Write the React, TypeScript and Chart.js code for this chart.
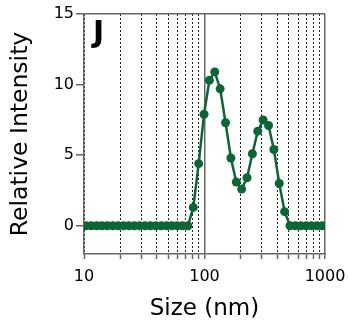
import React, { useEffect, useRef } from 'react';
import { Chart, registerables } from 'chart.js';

Chart.register(...registerables);

// Particle size bins (nm)
const sizes = [
  10.36, 11.48, 12.72, 14.1, 15.62, 17.31, 19.18, 21.25, 23.55, 26.1,
  28.92, 32.04, 35.51, 39.35, 43.6, 48.31, 53.54, 59.32, 65.74, 72.84,
  80.72, 89.45, 99.12, 109.8, 121.7, 134.9, 149.5, 165.6, 183.5, 203.4,
  225.4, 249.7, 276.7, 306.7, 339.8, 376.5, 417.3, 462.4,
  512.4, 567.8, 629.2, 697.2, 772.6, 856.1, 948.7,
];

// Relative intensity (%)
const intensity = [
  0, 0, 0, 0, 0, 0, 0, 0, 0, 0,
  0, 0, 0, 0, 0, 0, 0, 0, 0, 0,
  1.3, 4.4, 7.9, 10.3, 10.9, 9.7, 7.3, 4.8, 3.1, 2.6,
  3.4, 5.1, 6.7, 7.5, 7.1, 5.4, 3.0, 1.0,
  0, 0, 0, 0, 0, 0, 0,
];

const xGridValues = [10, 20, 30, 40, 50, 60, 70, 80, 90, 100, 200, 300, 400, 500, 600, 700, 800, 900, 1000];
const xTickLabels = [10, 100, 1000];
const xSolidLines = [100, 1000];
const yTicks = [0, 5, 10, 15];
const yTopLine = 15;
const panelLabel = 'J';
const xTitle = 'Size (nm)';
const yTitle = 'Relative Intensity';

const GREEN = '#0b6534';
const GRAY = '#666666';
const FONT = "'DejaVu Sans'";

const near = (a: number, b: number) => Math.abs(a - b) < 1e-6 * Math.max(1, Math.abs(b));

const panelLabelPlugin = {
  id: 'panelLabel',
  afterDraw(chart: any) {
    const { ctx, chartArea } = chart;
    ctx.save();
    ctx.fillStyle = '#000';
    ctx.font = `bold 30px ${FONT}`;
    ctx.textBaseline = 'top';
    ctx.textAlign = 'left';
    ctx.fillText(panelLabel, chartArea.left + 9, chartArea.top + 5);
    ctx.restore();
  },
};

export default function App() {
  const ref = useRef<HTMLCanvasElement | null>(null);

  useEffect(() => {
    if (!ref.current) return;
    Chart.defaults.font.family = FONT;
    const chart = new Chart(ref.current, {
      type: 'scatter',
      data: {
        datasets: [
          {
            data: sizes.map((s, i) => ({ x: s, y: intensity[i] })),
            showLine: true,
            borderColor: GREEN,
            backgroundColor: GREEN,
            pointBackgroundColor: GREEN,
            pointBorderColor: GREEN,
            pointRadius: 4.5,
            pointBorderWidth: 0,
            borderWidth: 2.5,
          },
        ],
      },
      options: {
        responsive: false,
        animation: false,
        devicePixelRatio: 1,
        layout: { padding: { top: 14, right: 23, left: 0, bottom: 0 } },
        plugins: { legend: { display: false }, tooltip: { enabled: false } },
        scales: {
          x: {
            type: 'logarithmic',
            min: 10,
            max: 1000,
            afterBuildTicks: (scale: any) => {
              scale.ticks = xGridValues.map((v) => ({ value: v }));
            },
            afterFit: (scale: any) => {
              scale.height = 77;
              scale.paddingLeft = 0;
              scale.paddingRight = 0;
            },
            ticks: {
              autoSkip: false,
              maxRotation: 0,
              minRotation: 0,
              padding: 8,
              color: '#000',
              font: { size: 16 },
              callback: (v: any) => {
                const n = Number(v);
                return xTickLabels.some((t) => near(n, t)) ? String(n) : '';
              },
            },
            grid: {
              drawOnChartArea: true,
              color: (ctx: any) => {
                const v = ctx.tick ? ctx.tick.value : 0;
                return xSolidLines.some((t) => near(v, t)) ? GRAY : '#222222';
              },
              lineWidth: (ctx: any) => {
                const v = ctx.tick ? ctx.tick.value : 0;
                return xSolidLines.some((t) => near(v, t)) ? 1.5 : 1;
              },
              tickColor: GRAY,
              tickLength: 5,
              tickWidth: 1.5,
              tickBorderDash: [],
            },
            border: {
              display: true,
              color: GRAY,
              width: 1.5,
              dash: (ctx: any) => {
                const v = ctx.tick ? ctx.tick.value : 0;
                return xSolidLines.some((t) => near(v, t)) ? [] : [2, 2];
              },
            },
            title: {
              display: true,
              text: xTitle,
              color: '#000',
              font: { size: 23 },
              padding: { top: 0, bottom: 8 },
            },
          },
          y: {
            type: 'linear',
            min: -2,
            max: 15,
            afterBuildTicks: (scale: any) => {
              scale.ticks = yTicks.map((v) => ({ value: v }));
            },
            afterFit: (scale: any) => {
              scale.width = 84;
              scale.paddingTop = 0;
              scale.paddingBottom = 0;
            },
            ticks: {
              padding: 2,
              color: '#000',
              font: { size: 16 },
              callback: (v: any) => String(v),
            },
            grid: {
              drawOnChartArea: true,
              color: (ctx: any) => {
                const v = ctx.tick ? ctx.tick.value : 0;
                return near(v, yTopLine) ? GRAY : 'rgba(0,0,0,0)';
              },
              lineWidth: 1.5,
              tickColor: GRAY,
              tickLength: 8,
              tickWidth: 1.5,
            },
            border: { display: true, color: GRAY, width: 1.5 },
            title: {
              display: true,
              text: yTitle,
              color: '#000',
              font: { size: 23.5 },
              padding: { top: 7, bottom: 0 },
            },
          },
        },
      },
      plugins: [panelLabelPlugin],
    } as any);
    return () => chart.destroy();
  }, []);

  return (
    <div style={{ position: 'absolute', left: 0, top: 0, width: 348, height: 331, background: '#fff' }}>
      <canvas ref={ref} width={348} height={331} style={{ width: 348, height: 331, display: 'block' }} />
    </div>
  );
}
